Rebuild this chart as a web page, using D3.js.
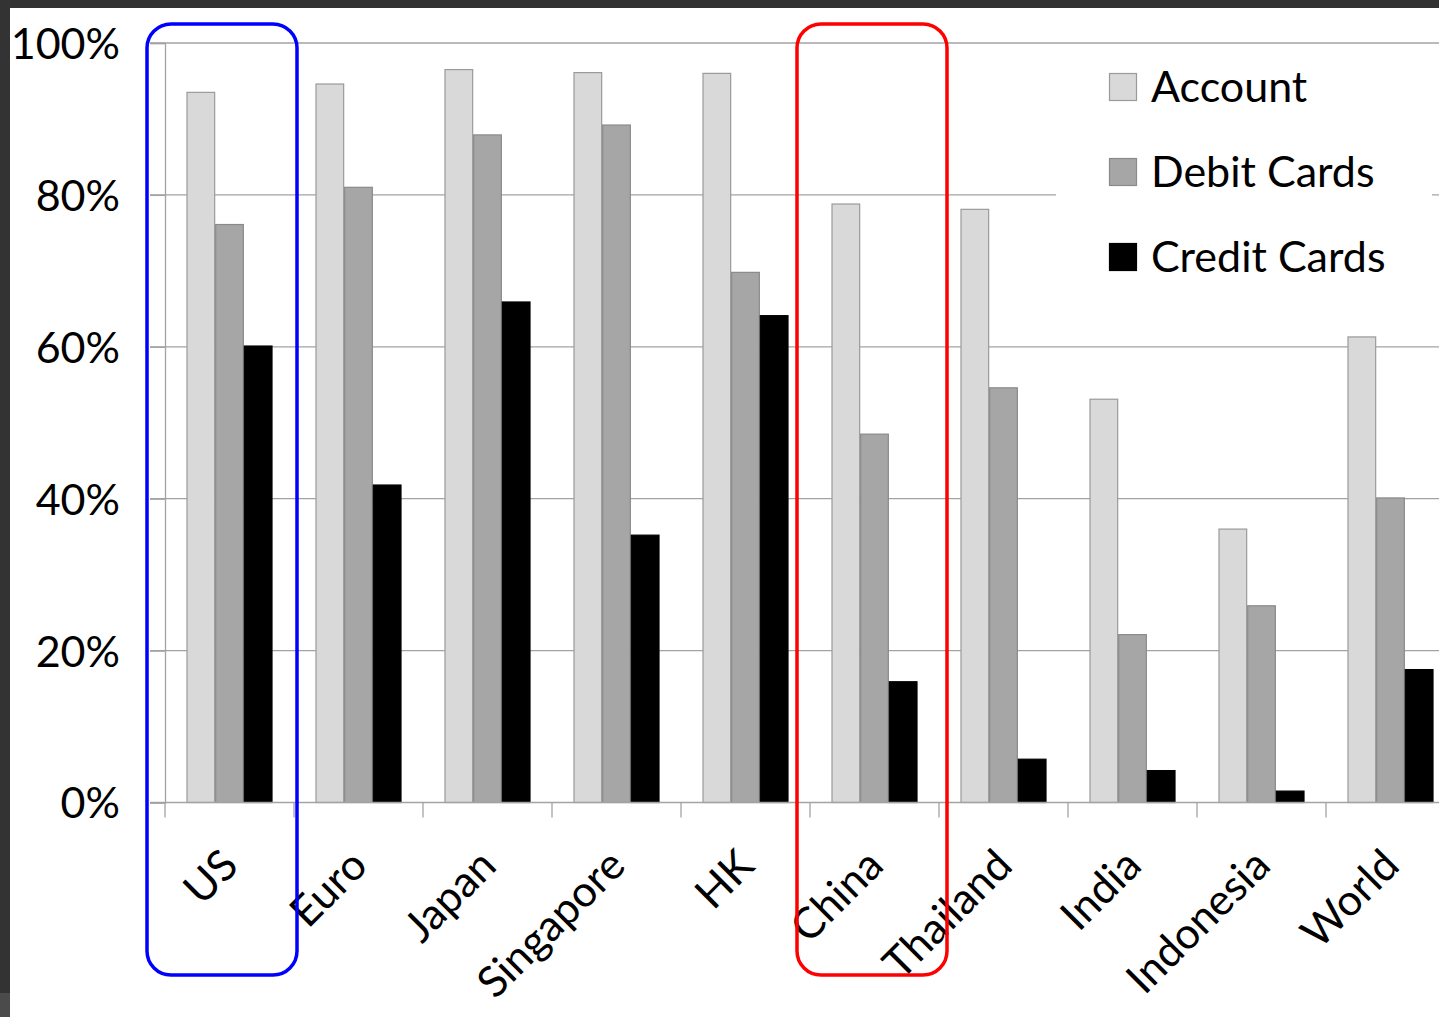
<!DOCTYPE html>
<html>
<head>
<meta charset="utf-8">
<script src="https://cdn.jsdelivr.net/npm/d3@7"></script>
<style>
  html, body { margin: 0; padding: 0; background: #ffffff; overflow: hidden; }
  svg { display: block; }
  text { font-family: Lato, "Open Sans", sans-serif; fill: #000; }
</style>
</head>
<body>
<svg id="chart" width="1439" height="1017"></svg>
<script>
// ---- data ----
const categories = ["US", "Euro", "Japan", "Singapore", "HK", "China", "Thailand", "India", "Indonesia", "World"];
const seriesNames = ["Account", "Debit Cards", "Credit Cards"];
const account     = [93.5, 94.6, 96.5, 96.1, 96.0, 78.8, 78.1, 53.1, 36.0, 61.3];
const debitCards  = [76.1, 81.0, 87.9, 89.2, 69.8, 48.5, 54.6, 22.1, 25.9, 40.1];
const creditCards = [60.1, 41.8, 65.9, 35.2, 64.1, 15.9, 5.7, 4.2, 1.5, 17.5];
const yTicks = [0, 0.2, 0.4, 0.6, 0.8, 1.0];
const highlights = [{ cat: "US", color: "#0000ff" }, { cat: "China", color: "#ff0000" }];

const seriesValues = [account, debitCards, creditCards];
const fills   = ["#d9d9d9", "#a6a6a6", "#000000"];
const strokes = ["#9a9a9a", "#8a8a8a", "#000000"];
const FS = 43;

const svg = d3.select("#chart");

// frame (dark surround of the screenshot)
svg.append("rect").attr("x", 0).attr("y", 0).attr("width", 1439).attr("height", 8).attr("fill", "#323232");
svg.append("rect").attr("x", 0).attr("y", 0).attr("width", 10).attr("height", 993).attr("fill", "#333333");
svg.append("rect").attr("x", 0).attr("y", 993).attr("width", 10).attr("height", 24).attr("fill", "#4b4b4b");

// scales
const x0 = d3.scaleBand().domain(categories).range([165, 1455]).paddingInner(0).paddingOuter(0);
const x1 = d3.scaleBand().domain(seriesNames).range([0, x0.bandwidth()]).paddingInner(0).paddingOuter(0.75);
const y = d3.scaleLinear().domain([0, 1]).range([802.5, 43]);

// gridlines
svg.append("g").selectAll("line").data(yTicks.slice(1)).join("line")
  .attr("x1", 150).attr("x2", 1439)
  .attr("y1", d => y(d)).attr("y2", d => y(d))
  .attr("stroke", "#a3a3a3").attr("stroke-width", 1.3);

// bars
const rows = categories.map((c, i) => ({ cat: c, vals: seriesValues.map((s, k) => ({ key: seriesNames[k], k, v: s[i] / 100 })) }));
const groups = svg.append("g").selectAll("g").data(rows).join("g")
  .attr("transform", d => `translate(${x0(d.cat)},0)`);
groups.selectAll("rect").data(d => d.vals).join("rect")
  .attr("x", d => x1(d.key) + 0.5)
  .attr("width", x1.bandwidth() - 1)
  .attr("y", d => y(d.v))
  .attr("height", d => y(0) - y(d.v))
  .attr("fill", d => fills[d.k])
  .attr("stroke", d => strokes[d.k])
  .attr("stroke-width", 1.2);

// y axis
const yAxis = d3.axisLeft(y).tickValues(yTicks).tickSize(15).tickPadding(30).tickFormat(d3.format(".0%"));
const gy = svg.append("g").attr("transform", "translate(165,0)").call(yAxis);
gy.select(".domain").attr("stroke", "#a3a3a3").attr("stroke-width", 1.3);
gy.selectAll(".tick line").attr("stroke", "#a3a3a3").attr("stroke-width", 1.3);
gy.selectAll(".tick text").attr("font-size", FS).attr("font-family", "Lato").attr("fill", "#000").attr("dy", "0.36em");

// x axis baseline + ticks at band edges
const gx = svg.append("g");
gx.append("line").attr("x1", 150).attr("x2", 1439).attr("y1", y(0)).attr("y2", y(0))
  .attr("stroke", "#a3a3a3").attr("stroke-width", 1.3);
gx.selectAll("line.tk").data(categories).join("line").attr("class", "tk")
  .attr("x1", d => x0(d)).attr("x2", d => x0(d))
  .attr("y1", y(0)).attr("y2", y(0) + 15)
  .attr("stroke", "#a3a3a3").attr("stroke-width", 1.3);
gx.selectAll("text").data(categories).join("text")
  .attr("transform", d => `translate(${x0(d) + x0.bandwidth() / 2 + 11},868) rotate(-45)`)
  .attr("text-anchor", "end")
  .attr("font-size", FS)
  .text(d => d);

// legend
const lg = svg.append("g");
lg.append("rect").attr("x", 1056).attr("y", 55).attr("width", 376).attr("height", 235).attr("fill", "#ffffff");
const items = lg.selectAll("g").data(seriesNames).join("g")
  .attr("transform", (d, i) => `translate(1109,${73 + i * 85})`);
items.append("rect").attr("x", 0.5).attr("y", 0.5).attr("width", 27).attr("height", 27)
  .attr("fill", (d, i) => fills[i]).attr("stroke", (d, i) => strokes[i]).attr("stroke-width", 1.2);
items.append("text").attr("x", 42).attr("y", 28.5).attr("font-size", FS).text(d => d);

// highlight boxes (hand-drawn annotations, slightly off the band centre)
const hlShift = { US: -82.5, China: -77.5 };
svg.append("g").selectAll("rect").data(highlights).join("rect")
  .attr("x", d => x0(d.cat) + x0.bandwidth() / 2 + hlShift[d.cat])
  .attr("y", 24)
  .attr("width", 150)
  .attr("height", 951)
  .attr("rx", 24).attr("ry", 24)
  .attr("fill", "none")
  .attr("stroke", d => d.color)
  .attr("stroke-width", 3.5);
</script>
</body>
</html>
